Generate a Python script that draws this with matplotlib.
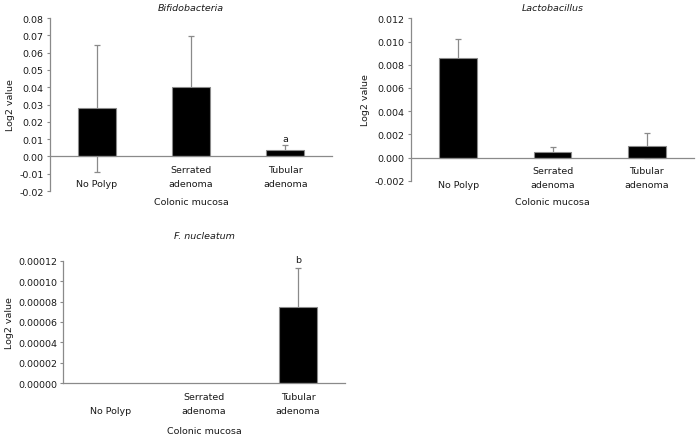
import matplotlib
matplotlib.use("Agg")
import matplotlib.pyplot as plt
import numpy as np

categories = ["\nNo Polyp", "Serrated\nadenoma", "Tubular\nadenoma"]

bifido_vals = [0.028, 0.040, 0.0037]
bifido_err_up = [0.0365, 0.0295, 0.0028]
bifido_err_lo = [0.0372, 0.0295, 0.0028]
bifido_marks = ["", "", "a"]
bifido_ticks = [-0.02, -0.01, 0.00, 0.01, 0.02, 0.03, 0.04, 0.05, 0.06, 0.07, 0.08]

lacto_vals = [0.0086, 0.00046, 0.00095]
lacto_err_up = [0.0016, 0.00043, 0.00112]
lacto_err_lo = [0.0016, 0.00043, 0.00095]
lacto_marks = ["", "", ""]
lacto_ticks = [-0.002, 0.000, 0.002, 0.004, 0.006, 0.008, 0.010, 0.012]

fuso_vals = [0.0, 0.0, 0.000075]
fuso_err_up = [0.0, 0.0, 0.0000383]
fuso_err_lo = [0.0, 0.0, 0.0000383]
fuso_marks = ["", "", "b"]
fuso_ticks = [0.0, 0.00002, 0.00004, 0.00006, 0.00008, 0.00010, 0.00012]

plt.rcParams['font.family'] = ['DejaVu Sans']
FS = 6.8
plt.rcParams['font.size'] = FS
GRAY = "#8a8a8a"
TXT = "#1a1a1a"

fig = plt.figure(figsize=(6.99, 4.35), dpi=100)

def panel(rect, title, vals, err_up, err_lo, marks, ticks, fmt, mark_offset,
          title_pad, xlabel_y):
    ax = fig.add_axes(rect)
    ax.spines['top'].set_visible(False)
    ax.spines['right'].set_visible(False)
    ax.spines['bottom'].set_position(('data', 0))
    x = np.arange(len(categories))
    for i in range(len(x)):
        if err_up[i] > 0:
            ax.errorbar(x[i], vals[i], yerr=[[err_lo[i]], [err_up[i]]], fmt='none',
                        ecolor=GRAY, elinewidth=0.9, capsize=2.2, capthick=0.9, zorder=1)
    lws = [0.8 if v != 0 else 0 for v in vals]
    ax.bar(x, vals, width=0.4, color='black', edgecolor=GRAY, linewidth=lws, zorder=2)
    for i, m in enumerate(marks):
        if m:
            ax.text(x[i], vals[i] + err_up[i] + mark_offset, m, ha='center', va='bottom',
                    fontsize=FS, color=TXT)
    ax.set_xlim(-0.5, len(x) - 0.5)
    ax.set_ylim(ticks[0], ticks[-1])
    ax.set_yticks(ticks)
    ax.set_yticklabels([fmt.format(t) for t in ticks])
    ax.set_xticks(x)
    ax.set_xticklabels(categories)
    ax.tick_params(axis='x', length=0, pad=6, labelsize=FS, labelcolor=TXT)
    ax.tick_params(axis='y', length=2.5, width=0.8, color=GRAY, pad=2, labelsize=FS,
                   labelcolor=TXT)
    for lbl in ax.get_xticklabels():
        lbl.set_linespacing(1.75)
    for s in ('left', 'bottom'):
        ax.spines[s].set_color(GRAY)
        ax.spines[s].set_linewidth(0.9)
    ax.set_title(title, fontsize=FS, style='italic', pad=title_pad, color=TXT)
    ax.set_ylabel("Log2 value", fontsize=FS, labelpad=3, color=TXT)
    ax.set_xlabel("Colonic mucosa", fontsize=FS, color=TXT)
    ax.xaxis.set_label_coords(0.5, xlabel_y)
    ax.patch.set_alpha(0)
    return ax

ax1 = panel([0.0715, 0.5586, 0.404, 0.3977], "Bifidobacteria", bifido_vals,
            bifido_err_up, bifido_err_lo, bifido_marks, bifido_ticks, "{:.2f}",
            0.0015, 6, -0.035)

ax2 = panel([0.588, 0.5823, 0.405, 0.3733], "Lactobacillus", lacto_vals,
            lacto_err_up, lacto_err_lo, lacto_marks, lacto_ticks, "{:.3f}",
            0.0002, 6, -0.10)

ax3 = panel([0.0906, 0.1166, 0.403, 0.2818], "F. nucleatum", fuso_vals,
            fuso_err_up, fuso_err_lo, fuso_marks, fuso_ticks, "{:.5f}",
            0.000003, 16, -0.348)

fig.savefig("out.png", dpi=100)
